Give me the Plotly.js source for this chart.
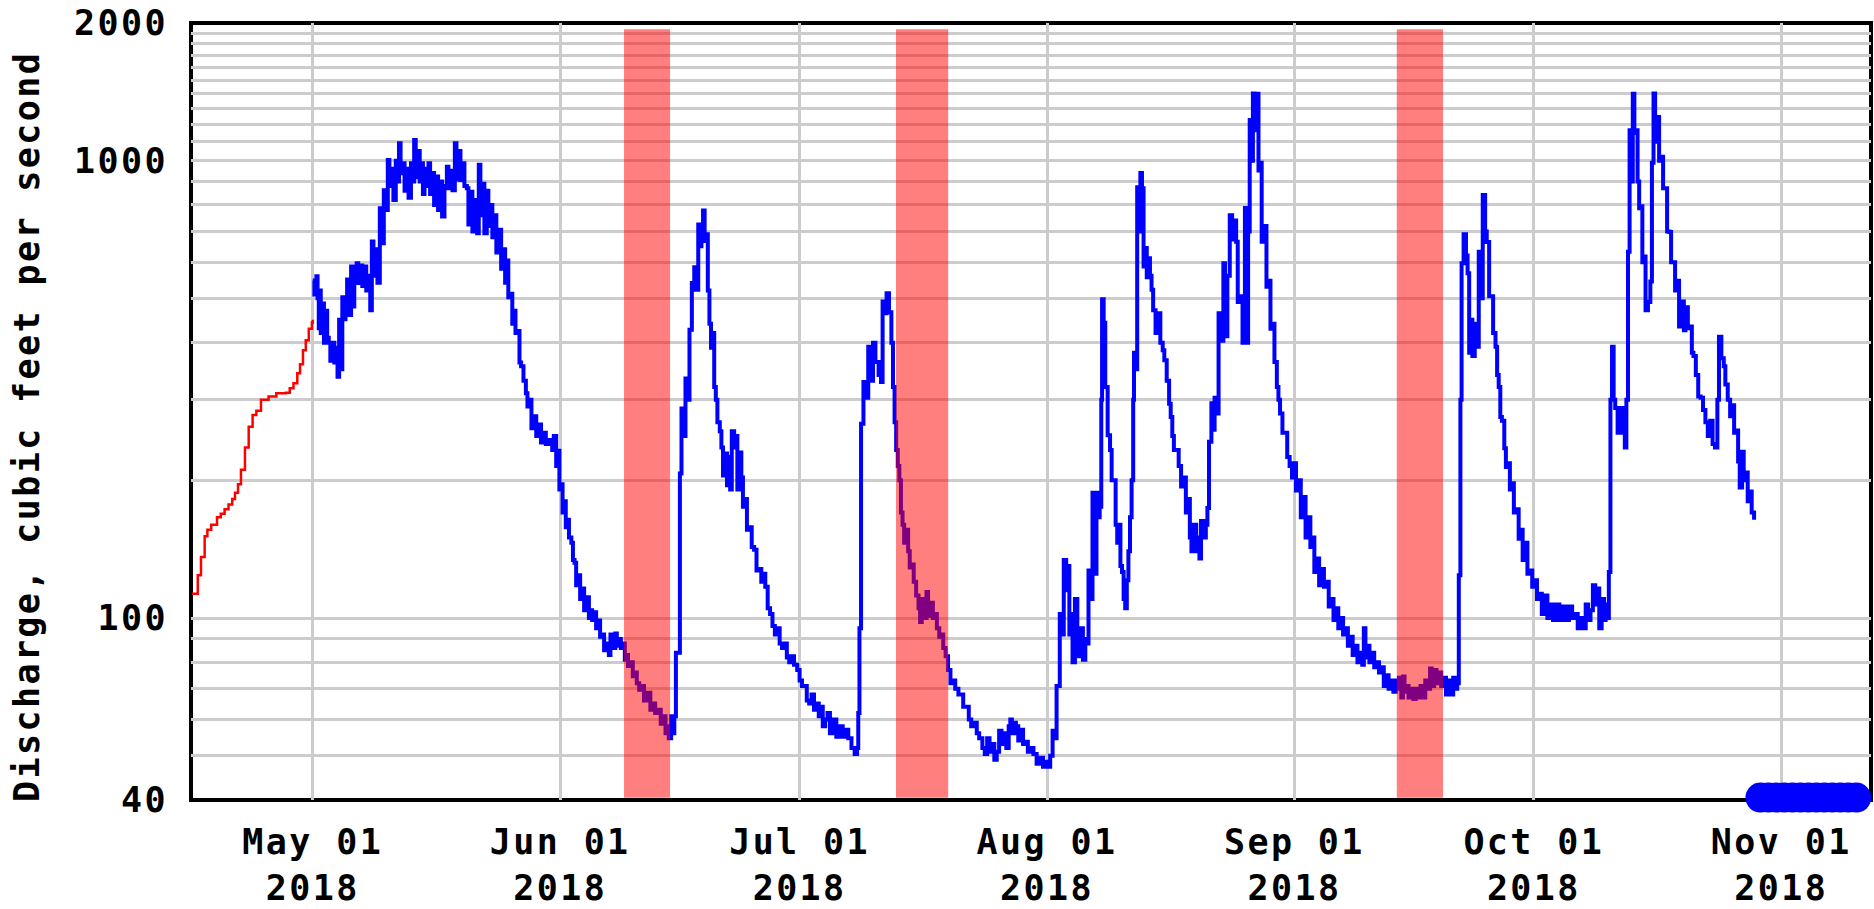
<!DOCTYPE html>
<html>
<head>
<meta charset="utf-8">
<script src="https://cdn.plot.ly/plotly-3.0.1.min.js"></script>
<style>
html,body{margin:0;padding:0;background:#fff;}
#chart{width:1874px;height:909px;}
#chart svg text{letter-spacing:2.4px;}
</style>
</head>
<body>
<div id="chart"></div>
<script>
// ---- DATA (day = days since 2018-05-01 00:00, value = discharge in cfs) ----
const startDate = "2018-05-01";

const redPoints = [
  [-15.14,113],[-14.41,124],[-14.01,136],[-13.55,151],[-13.21,156],[-12.73,160],[-12.0,166],
  [-11.53,169],[-11.05,173],[-10.56,177],[-10.09,182],[-9.75,188],[-9.37,196],[-9.0,211],
  [-8.5,236],[-8.03,262],[-7.54,278],[-7.07,284],[-6.49,300],[-5.54,305],[-4.57,310],
  [-3.37,311],[-2.89,318],[-2.42,326],[-1.94,343],[-1.6,359],[-1.23,385],[-0.88,405],
  [-0.5,429],[-0.11,443],[0.0,449]
];

const blueMay = [
  [0.0,547],[0.2,510],[0.45,559],[0.6,500],[0.75,430],[0.9,520],[1.0,420],[1.2,487],[1.4,400],
  [1.6,470],[1.8,410],[2.0,400],[2.2,365],[2.5,400],[2.7,362],[2.9,390],[3.1,337],[3.3,449],
  [3.5,350],[3.7,503],[3.9,450],[4.1,490],[4.3,550],[4.5,460],[4.8,587],[5.0,480],[5.2,560],
  [5.5,597],[5.7,540],[6.0,590],[6.2,532],[6.45,587],[6.7,520],[7.0,560],[7.2,471],[7.4,666],
  [7.6,560],[7.9,640],[8.1,541],[8.4,787],[8.6,660],[8.9,862],[9.1,780],[9.4,1004],[9.6,880],
  [9.9,960],[10.1,820],[10.4,1000],[10.6,900],[10.8,1091],[11.0,939],[11.3,987],[11.5,860],
  [11.8,960],[12.0,830],[12.3,987],[12.5,900],[12.7,1109],[12.9,920],[13.1,1050],[13.4,900],
  [13.6,987],[13.8,846],[14.0,960],[14.2,880],[14.5,987],[14.7,846],[15.0,940],[15.2,800],
  [15.5,923],[15.7,780],[16.0,900],[16.2,755],[16.5,880],[16.8,970],[17.0,870],[17.3,950],
  [17.5,862],[17.8,1091],[18.0,910],[18.3,1050],[18.5,907],[18.8,987],[19.0,880],[19.3,870],
  [19.5,725],[19.8,855],[20.0,700],[20.3,820],[20.6,694],[20.8,980],[21.0,760],[21.3,890],
  [21.5,694],[21.8,860],[22.0,720],[22.3,800],[22.5,680],[22.8,760],[23.0,630],[23.3,706],
  [23.6,580],[23.9,640],[24.1,541],[24.3,605],[24.5,503],[24.8,512],[25.0,440],[25.2,470],
  [25.4,420],[25.7,424],[25.9,362],[26.1,355],[26.4,330],[26.7,310],[26.9,290],[27.1,300],
  [27.4,260],[27.7,276],[28.0,250],[28.3,265],[28.6,242],[28.9,254],[29.2,240],[29.6,245],
  [30.0,233]
];

const blueJun = [
  [30.2,250],[30.5,215],[30.7,232],[30.9,191],[31.1,196],[31.3,170],[31.5,180],[31.7,158],
  [31.9,164],[32.1,150],[32.4,146],[32.6,134],[32.8,132],[33.0,118],[33.3,124],[33.5,110],
  [33.7,116],[34.0,104],[34.3,111],[34.6,100],[34.8,104],[35.0,99],[35.2,103],[35.5,95],
  [35.7,98.7],[36.0,91],[36.2,92],[36.5,85],[36.8,88],[37.1,83],[37.3,92],[37.6,86],
  [37.9,92.5],[38.1,87],[38.4,90],[38.6,86],[38.8,88],[39.1,81],[39.3,83],[39.5,78.5],
  [39.8,80],[40.1,74.6],[40.3,76],[40.6,72],[40.9,69.7],[41.1,71],[41.5,66],[41.9,68.6],
  [42.3,63],[42.6,65],[42.9,62],[43.2,63],[43.6,58.7],[43.9,61],[44.2,56],[44.4,58],
  [44.6,54.6],[44.9,61],[45.1,56],[45.3,61],[45.5,84],[45.8,84],[46.0,207],[46.2,287],
  [46.5,250],[46.7,334],[47.0,300],[47.2,427],[47.5,540],[47.8,585],[48.0,522],[48.3,725],
  [48.5,650],[48.7,720],[48.9,778],[49.1,667],[49.3,690],[49.5,520],[49.7,440],[49.9,390],
  [50.1,420],[50.3,320],[50.5,300],[50.7,268],[51.0,256],[51.2,236],[51.4,205],[51.6,229],
  [51.9,195],[52.1,225],[52.3,191],[52.5,256],[52.8,236],[53.0,250],[53.2,191],[53.5,230],
  [53.7,203],[53.9,175],[54.1,182],[54.4,156],[54.7,158],[55.0,143],[55.3,141],[55.6,127],
  [55.8,128],[56.2,120],[56.5,125],[56.7,117],[57.0,105],[57.3,102],[57.6,96],[57.9,92],
  [58.1,95],[58.5,88],[58.8,86],[59.0,88],[59.4,82],[59.7,80],[59.9,82.5],[60.3,79],[60.7,77]
];

const blueJul = [
  [61.0,73],[61.3,71],[61.6,71],[61.9,66],[62.2,65],[62.5,68],[62.8,63],[63.1,65],[63.4,61],
  [63.6,64],[63.9,58],[64.2,60],[64.5,62],[64.8,56],[65.1,59],[65.3,60],[65.6,55],[66.0,58],
  [66.4,55],[66.8,57],[67.1,54.6],[67.5,52],[67.9,50.4],[68.2,52],[68.35,62],[68.5,95],
  [68.7,266],[69.0,328],[69.3,303],[69.6,392],[69.9,330],[70.2,400],[70.5,363],[70.9,340],
  [71.2,328],[71.4,492],[71.7,464],[71.9,513],[72.2,466],[72.5,400],[72.7,320],[72.9,268],
  [73.1,233],[73.3,215],[73.5,200],[73.7,170],[73.9,160],[74.1,146],[74.3,156],[74.6,140],
  [74.8,129],[75.0,131],[75.3,120],[75.6,112],[75.9,105],[76.1,98],[76.3,110],[76.6,100],
  [76.9,114],[77.1,101],[77.4,108],[77.7,100],[77.9,102],[78.2,95],[78.5,91],[78.8,92],
  [79.0,86],[79.3,82.5],[79.6,77],[79.9,72],[80.1,73],[80.5,70],[80.9,68],[81.1,68],[81.5,64],
  [81.8,64],[82.2,60],[82.5,58],[82.8,59],[83.2,56],[83.5,54.6],[83.9,52],[84.2,50.4],
  [84.5,54.6],[84.8,51],[85.1,53],[85.4,49],[85.7,51],[86.0,56.7],[86.3,53],[86.6,56],
  [86.9,52],[87.2,58],[87.4,60],[87.6,56],[87.9,59],[88.1,58],[88.4,54],[88.7,57],[89.0,53],
  [89.2,53.6],[89.6,51],[89.9,52],[90.3,50.4],[90.7,48],[91.1,49.5],[91.5,47.3],[91.9,48.5],
  [92.2,47.3],[92.4,50],[92.7,56.7]
];

const blueAug = [
  [93.0,54.6],[93.2,71],[93.6,102],[93.9,92],[94.1,134],[94.4,115],[94.6,130],[94.8,92],
  [95.0,102],[95.2,80],[95.5,110],[95.8,90],[96.0,82.5],[96.2,95],[96.5,81],[96.8,90],
  [97.0,88],[97.2,127],[97.5,110],[97.7,188],[97.9,125],[98.2,188],[98.4,166],[98.6,175],
  [98.8,300],[98.9,498],[99.1,442],[99.3,320],[99.6,251],[99.9,233],[100.1,200],[100.4,200],
  [100.6,160],[100.8,146],[101.0,160],[101.2,130],[101.4,126],[101.6,110],[101.8,105],
  [102.0,121],[102.2,140],[102.4,166],[102.6,200],[102.8,300],[102.9,380],[103.1,350],
  [103.3,875],[103.5,700],[103.7,940],[103.9,870],[104.1,587],[104.3,644],[104.5,556],
  [104.7,612],[104.9,560],[105.1,522],[105.3,471],[105.6,420],[105.9,464],[106.2,400],
  [106.5,385],[106.7,366],[107.0,330],[107.3,294],[107.5,275],[107.7,250],[107.9,233],
  [108.2,233],[108.5,215],[108.8,194],[109.1,203],[109.4,170],[109.7,182],[109.9,150],
  [110.1,140],[110.4,160],[110.7,140],[110.9,150],[111.1,135],[111.3,163],[111.6,150],
  [111.9,160],[112.1,174],[112.3,243],[112.6,295],[112.8,258],[113.0,303],[113.3,280],
  [113.5,464],[113.8,404],[114.1,597],[114.3,413],[114.6,560],[114.9,760],[115.2,672],
  [115.5,740],[115.7,665],[115.9,491],[116.2,505],[116.5,400],[116.8,788],[117.0,400],
  [117.2,700],[117.4,1228],[117.6,1000],[117.8,1402],[118.0,1166],[118.2,1400],[118.5,952],
  [118.7,990],[118.9,665],[119.2,720],[119.5,530],[119.8,546],[120.0,429],[120.3,440],
  [120.5,363],[120.8,320],[121.0,300],[121.2,280],[121.5,254],[121.8,254],[122.1,225],
  [122.4,215],[122.7,203]
];

const blueSep = [
  [122.9,218],[123.2,190],[123.5,200],[123.8,166],[124.1,184],[124.4,150],[124.7,166],
  [125.0,143],[125.2,150],[125.5,126],[125.8,135],[126.1,118],[126.4,128],[126.7,117],
  [127.0,120],[127.3,106],[127.6,110],[127.9,99],[128.2,105],[128.5,95],[128.8,100],[129.1,92],
  [129.4,95],[129.7,87],[130.0,91],[130.3,83],[130.6,87],[130.9,80],[131.2,84],[131.5,79],
  [131.7,95],[131.9,82],[132.2,87],[132.4,80],[132.7,84],[133.0,78],[133.3,80],[133.6,76],
  [133.9,78],[134.2,71],[134.5,75],[134.8,70],[135.1,73],[135.4,69],[135.7,73],[135.9,70],
  [136.1,74],[136.4,67],[136.6,74.5],[136.8,69],[137.0,71],[137.3,67],[137.6,70],[137.9,66.5],
  [138.2,70],[138.5,67],[138.8,71],[139.1,67],[139.4,73],[139.7,70],[140.0,77.6],[140.2,71],
  [140.5,77],[140.8,72],[141.1,76],[141.4,71],[141.7,74],[142.0,68],[142.3,73],[142.6,68],
  [142.9,74],[143.2,70],[143.4,72],[143.6,124],[143.8,300],[143.95,597],[144.2,690],
  [144.5,620],[144.7,567],[144.9,380],[145.1,449],[145.3,374],[145.6,440],[145.9,392],
  [146.1,632],[146.4,500],[146.6,841],[146.9,700],[147.1,664],[147.4,505],[147.7,505],
  [147.9,420],[148.2,392],[148.4,340],[148.6,320],[148.8,275],[149.0,270],[149.3,235],
  [149.5,214],[149.7,218],[150.0,191],[150.2,197],[150.5,170],[150.8,173],[151.1,149],
  [151.3,156],[151.6,134],[151.9,146],[152.2,125],[152.5,127]
];

const blueOct = [
  [152.8,117],[153.1,121],[153.4,110],[153.7,113],[154.0,102],[154.3,112],[154.7,100],
  [155.0,107],[155.4,99],[155.8,107],[156.2,99],[156.6,106],[157.0,99],[157.4,106],[157.8,100],
  [158.2,102],[158.5,95],[158.9,100],[159.2,95],[159.5,107],[159.8,99],[160.1,104],[160.4,118],
  [160.7,107],[161.0,116],[161.2,95],[161.5,110],[161.8,99],[162.0,107],[162.2,100],
  [162.4,126],[162.6,300],[162.8,392],[163.0,300],[163.2,288],[163.5,254],[163.8,288],
  [164.1,254],[164.4,236],[164.6,300],[164.8,632],[165.0,1166],[165.2,900],[165.4,1400],
  [165.6,1150],[165.8,1166],[166.0,900],[166.2,787],[166.4,795],[166.6,600],[166.8,617],
  [167.0,471],[167.3,491],[167.6,544],[167.8,990],[168.0,1402],[168.2,1100],[168.4,1246],
  [168.7,1000],[169.0,1020],[169.2,870],[169.5,870],[169.7,700],[170.0,698],[170.2,600],
  [170.5,600],[170.7,520],[171.0,546],[171.2,434],[171.5,492],[171.8,426],[172.0,478],
  [172.3,430],[172.5,434],[172.8,380],[173.0,374],[173.3,340],[173.6,305],[173.9,303],
  [174.2,285],[174.5,268],[174.8,250],[175.1,270],[175.4,240],[175.7,236],[176.0,300],
  [176.2,412],[176.5,370],[176.8,355],[177.0,324],[177.3,300],[177.6,276],[177.9,292],
  [178.1,254],[178.4,257],[178.6,220],[178.8,193],[179.1,231],[179.3,200],[179.6,208],
  [179.8,180],[180.1,189],[180.3,170],[180.6,164]
];

// flagged points plotted at the bottom of the scale
const flagDays = [181.4,182.4,183.4,184.4,185.4,186.4,187.4,188.4,189.4,190.4,191.4,192.4,193.4];
const flagCfs  = [40.5,40.5,40.5,40.5,40.5,40.5,40.5,40.5,40.5,40.5,40.5,40.5,40.5];

// shaded periods
const bandStartDays = [39.0, 73.08, 135.83];
const bandEndDays   = [44.77, 79.62, 141.62];

// axes
const xRangeDays = [-15.26, 195.25];
const yRange = [40, 2000];
const xTickDates = ["2018-05-01","2018-06-01","2018-07-01","2018-08-01","2018-09-01","2018-10-01","2018-11-01"];
const xTickText  = ["May 01<br>2018","Jun 01<br>2018","Jul 01<br>2018","Aug 01<br>2018","Sep 01<br>2018","Oct 01<br>2018","Nov 01<br>2018"];
const yTickVals = [40,50,60,70,80,90,100,200,300,400,500,600,700,800,900,1000,1100,1200,1300,1400,1500,1600,1700,1800,1900,2000];
const yTickText = ["40","","","","","","100","","","","","","","","","1000","","","","","","","","","","2000"];
const yTitle = "Discharge, cubic feet per second";

// ---- helpers ----
const base = Date.parse(startDate + "T00:00:00Z");
function dayToDate(d){
  return new Date(base + d*86400000).toISOString().replace("T"," ").slice(0,19);
}
function xs(pts){ return pts.map(p => dayToDate(p[0])); }
function ys(pts){ return pts.map(p => p[1]); }

const blueAll = [].concat(blueMay, blueJun, blueJul, blueAug, blueSep, blueOct);

const FONT = {family: "DejaVu Sans Mono", size: 35, color: "#000", weight: "bold"};

const traces = [
  {x: xs(redPoints), y: ys(redPoints), type: "scatter", mode: "lines",
   line: {color: "#ff0000", width: 2.5, shape: "hv", simplify: false}, hoverinfo: "skip"},
  {x: xs(blueAll), y: ys(blueAll), type: "scatter", mode: "lines",
   line: {color: "#0000ff", width: 4, shape: "hv", simplify: false}, hoverinfo: "skip"},
  {x: flagDays.map(dayToDate), y: flagCfs, type: "scatter", mode: "markers",
   marker: {color: "#0000ff", size: 30, line: {width: 0}}, cliponaxis: false, hoverinfo: "skip"}
];

const shapes = [];
for (let i = 0; i < bandStartDays.length; i++) {
  shapes.push({type: "rect", layer: "above", xref: "x", yref: "paper",
    x0: dayToDate(bandStartDays[i]), x1: dayToDate(bandEndDays[i]), y0: 0.003, y1: 0.992,
    fillcolor: "rgba(255,0,0,0.5)", line: {width: 0}});
}
shapes.push({type: "rect", layer: "between", xref: "paper", yref: "paper",
  x0: 0, x1: 1, y0: 0, y1: 1, line: {color: "#000", width: 4}, fillcolor: "rgba(0,0,0,0)"});

const layout = {
  width: 1874, height: 909,
  margin: {l: 191, r: 3, t: 23, b: 109, pad: 0},
  paper_bgcolor: "#fff", plot_bgcolor: "#fff",
  showlegend: false,
  xaxis: {
    type: "date",
    range: xRangeDays.map(dayToDate),
    tickmode: "array", tickvals: xTickDates, ticktext: xTickText,
    showgrid: true, gridcolor: "#cccccc", gridwidth: 3,
    zeroline: false, showline: false, ticks: "",
    tickfont: FONT, ticklabelstandoff: 18, fixedrange: true
  },
  yaxis: {
    type: "log",
    range: yRange.map(v => Math.log10(v)),
    tickmode: "array", tickvals: yTickVals, ticktext: yTickText,
    showgrid: true, gridcolor: "#cccccc", gridwidth: 3,
    zeroline: false, showline: false, ticks: "",
    tickfont: FONT, ticklabelstandoff: 22, fixedrange: true
  },
  shapes: shapes,
  annotations: [{
    text: yTitle, xref: "paper", yref: "paper", x: -0.0976, y: 0.4807,
    xanchor: "center", yanchor: "middle", textangle: -90, showarrow: false,
    font: FONT
  }]
};

Plotly.newPlot("chart", traces, layout, {staticPlot: true, displayModeBar: false});
</script>
</body>
</html>
